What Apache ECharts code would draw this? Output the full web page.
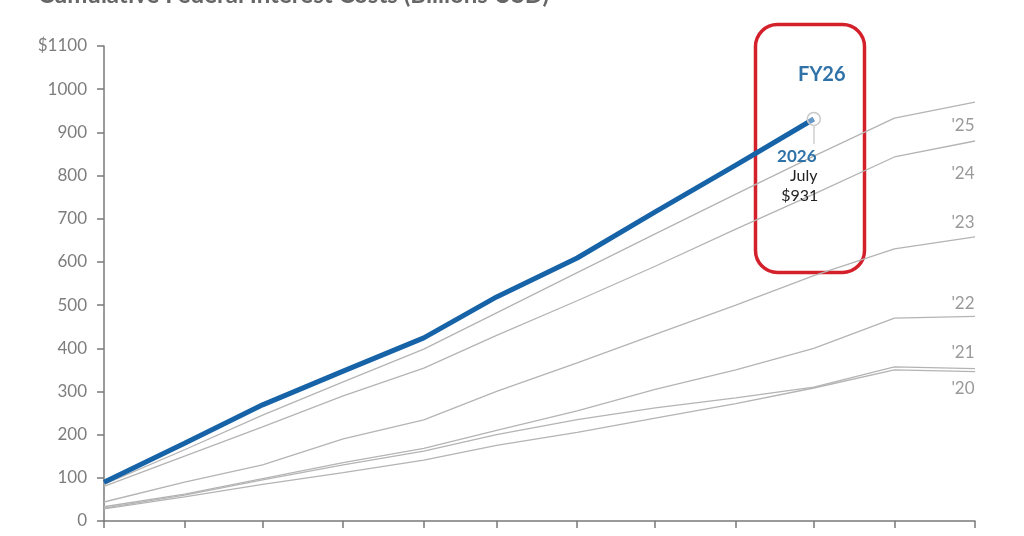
<!DOCTYPE html>
<html>
<head>
<meta charset="utf-8">
<script src="https://cdn.jsdelivr.net/npm/echarts@6/dist/echarts.min.js"></script>
<style>html,body{margin:0;padding:0;background:#fff}#c{width:1024px;height:536px}</style>
</head>
<body>
<div id="c"></div>
<script>
// Fiscal-year months (Oct..Sep) placed on a common template year
const months = ['2025-10-01','2025-11-01','2025-12-01','2026-01-01','2026-02-01','2026-03-01',
                '2026-04-01','2026-05-01','2026-06-01','2026-07-01','2026-08-01','2026-09-01'];
const monthNames = ['October','November','December','January','February','March','April','May','June','July','August','September'];
const yTicks = [0,100,200,300,400,500,600,700,800,900,1000,1100];

const fy26 = [90, 180, 269, 347, 424, 519, 609, 716, 824, 931];
const fy25 = [85, 165, 245, 322, 398, 482, 575, 665, 757, 845, 933, 970];
const fy24 = [80, 150, 218, 290, 354, 430, 510, 590, 676, 757, 843, 880];
const fy23 = [44, 90, 130, 190, 234, 300, 366, 432, 500, 568, 630, 658];
const fy22 = [33, 62, 98, 135, 168, 210, 255, 305, 350, 400, 470, 474];
const fy21 = [30, 60, 95, 130, 162, 200, 235, 262, 285, 310, 357, 353];
const fy20 = [28, 56, 85, 112, 141, 175, 205, 238, 272, 308, 350, 346];

const greyNames = ["'25","'24","'23","'22","'21","'20"];
const greyData = [fy25, fy24, fy23, fy22, fy21, fy20];
const labelOffsets = [[-20,23],[-20,33],[-20,-14],[-20,-13],[-20,-16],[-20,17]];

const pairs = arr => arr.map((v,i)=>[months[i], v]);
const FONT = 'Lato, "Open Sans", sans-serif';

const series = greyData.map((d,k)=>({
  name: greyNames[k], type:'line', data: pairs(d), showSymbol:false, symbol:'none',
  lineStyle:{color:'#b4b4b4', width:1.3}, z:2, silent:true,
  endLabel:{show:true, formatter: greyNames[k], color:'#9a9a9a', fontSize:17, fontFamily:FONT,
            align:'center', verticalAlign:'middle', offset: labelOffsets[k]}
}));

const lastIdx = fy26.length-1;
const blueData = pairs(fy26).map((p,i)=> i===lastIdx ? {
  value:p, symbol:'circle', symbolSize:13,
  itemStyle:{color:'rgba(255,255,255,0.35)', borderColor:'#c9c9c9', borderWidth:1.5},
  label:{show:true, position:'bottom', distance:20, align:'center', lineHeight:20, offset:[-14,0],
    formatter: '{y|2026}\n{m|' + monthNames[i] + '}\n{v|$' + fy26[i] + '}',
    rich:{
      y:{color:'#2f72a8', fontSize:17, fontWeight:'bold', fontFamily:FONT, align:'center', padding:[0,0,0,-6]},
      m:{color:'#222', fontSize:16, fontFamily:FONT, align:'center', padding:[0,0,0,8]},
      v:{color:'#222', fontSize:16, fontFamily:FONT, align:'center'}
    }}
} : {value:p, symbol:'none'});

series.push({
  name:'FY26', type:'line', data: blueData, showSymbol:true, symbol:'none',
  lineStyle:{color:'#1763a8', width:5}, z:5, silent:true,
  markLine:{silent:true, symbol:'none', label:{show:false},
    lineStyle:{color:'#cfcfcf', width:1.5, type:'solid'},
    data:[[{coord:[months[lastIdx], fy26[lastIdx]-16]},{coord:[months[lastIdx], fy26[lastIdx]-58]}]]},
  markPoint:{silent:true, symbol:'circle', symbolSize:0,
    data:[{coord:[months[lastIdx], fy26[lastIdx]], label:{show:true, formatter:'FY26', color:'#2f72a8',
      fontSize:20, fontWeight:'bold', fontFamily:FONT, offset:[8,-44]}}]}
});

const chart = echarts.init(document.getElementById('c'), null, {renderer:'canvas'});
chart.setOption({
  animation:false,
  backgroundColor:'#fff',
  title:{text:'Cumulative Federal Interest Costs (Billions USD)', left:33, top:-22,
    textStyle:{fontFamily:FONT, fontSize:24, fontWeight:'bold', color:'#666'}},
  grid:{left:104, right:49, top:46, bottom:15},
  xAxis:{type:'time', min:months[0], max:months[months.length-1],
    minInterval: 27*24*3600*1000, maxInterval: 32*24*3600*1000,
    axisLine:{lineStyle:{color:'#7a7a7a', width:1.5}},
    axisTick:{show:true, length:7, lineStyle:{color:'#7a7a7a', width:1.5}},
    axisLabel:{show:false}, splitLine:{show:false}},
  yAxis:{type:'value', min:yTicks[0], max:yTicks[yTicks.length-1], interval:100,
    axisLine:{show:true, lineStyle:{color:'#7a7a7a', width:1.5}},
    axisTick:{show:true, length:7, lineStyle:{color:'#7a7a7a', width:1.5}},
    axisLabel:{color:'#7d7d7d', fontSize:17, fontFamily:FONT, margin:17,
      formatter: v => v===yTicks[yTicks.length-1] ? '$'+v : String(v)},
    splitLine:{show:false}},
  series: series,
  graphic:[{type:'rect', left:753, top:22, silent:true,
    shape:{width:109, height:248, r:22},
    style:{fill:'none', stroke:'#d4202a', lineWidth:3.5}}]
});
</script>
</body>
</html>
